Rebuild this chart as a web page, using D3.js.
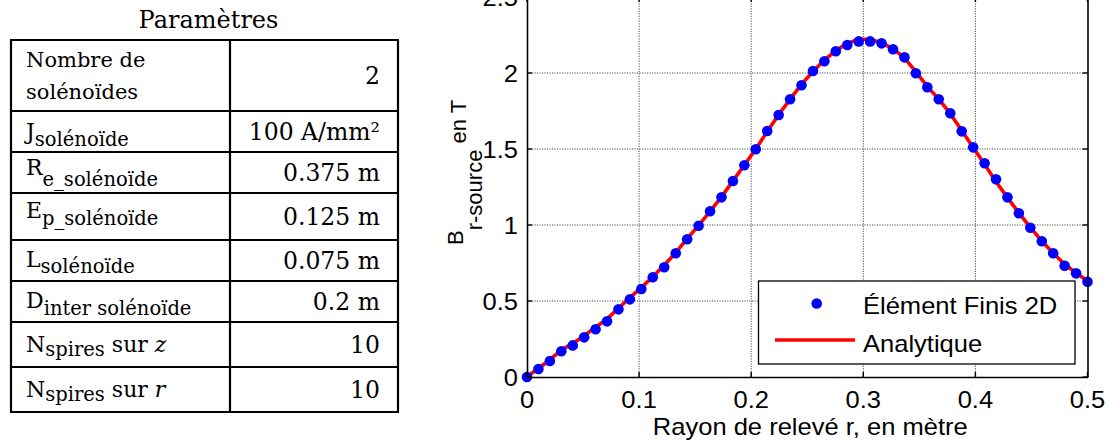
<!DOCTYPE html>
<html>
<head>
<meta charset="utf-8">
<script src="https://cdn.jsdelivr.net/npm/d3@7"></script>
<style>
  html, body { margin: 0; padding: 0; background: #fff; }
  svg { display: block; }
</style>
</head>
<body>
<svg id="chart" width="1110" height="445"></svg>
<script>
// ---------------- DATA ----------------
const radius = [0, 0.0102, 0.0204, 0.0306, 0.0408, 0.051, 0.0612, 0.0714, 0.0816, 0.0918,
  0.102, 0.1122, 0.1224, 0.1327, 0.1429, 0.1531, 0.1633, 0.1735, 0.1837, 0.1939,
  0.2041, 0.2143, 0.2245, 0.2347, 0.2449, 0.2551, 0.2653, 0.2755, 0.2857, 0.2959,
  0.3061, 0.3163, 0.3265, 0.3367, 0.3469, 0.3571, 0.3673, 0.3776, 0.3878, 0.398,
  0.4082, 0.4184, 0.4286, 0.4388, 0.449, 0.4592, 0.4694, 0.4796, 0.4898, 0.5];

const elementFinis = [0, 0.053, 0.105, 0.169, 0.208, 0.261, 0.314, 0.366, 0.445, 0.511,
  0.579, 0.656, 0.722, 0.814, 0.906, 0.995, 1.09, 1.182, 1.289, 1.393,
  1.498, 1.618, 1.724, 1.827, 1.919, 2.013, 2.077, 2.143, 2.184, 2.208,
  2.208, 2.195, 2.156, 2.103, 1.998, 1.906, 1.827, 1.735, 1.616, 1.511,
  1.406, 1.301, 1.182, 1.077, 0.982, 0.893, 0.814, 0.732, 0.682, 0.627];

const analytique = [0, 0.058, 0.112, 0.178, 0.22, 0.272, 0.327, 0.382, 0.452, 0.522,
  0.588, 0.66, 0.735, 0.818, 0.91, 0.998, 1.09, 1.185, 1.29, 1.395,
  1.5, 1.615, 1.725, 1.828, 1.925, 2.01, 2.085, 2.148, 2.195, 2.222,
  2.222, 2.198, 2.16, 2.1, 2.008, 1.912, 1.828, 1.732, 1.622, 1.51,
  1.4, 1.285, 1.18, 1.08, 0.985, 0.895, 0.815, 0.742, 0.685, 0.632];

const xTicks = [0, 0.1, 0.2, 0.3, 0.4, 0.5];
const xTickLabels = ["0", "0.1", "0.2", "0.3", "0.4", "0.5"];
const yTicks = [0, 0.5, 1, 1.5, 2, 2.5];
const yTickLabels = ["0", "0.5", "1", "1.5", "2", "2.5"];

const seriesNames = ["Élément Finis 2D", "Analytique"];
const xLabel = "Rayon de relevé r, en mètre";
const yLabelMain = "B", yLabelSub = "r-source", yLabelTail = " en T";

const tableTitle = "Paramètres";
const paramMain = ["", "J", "R", "E", "L", "D", "N", "N"];
const paramSub = ["", "solénoïde", "e_solénoïde", "p_solénoïde", "solénoïde", "inter solénoïde", "spires", "spires"];
const paramTailText = ["", "", "", "", "", "", " sur ", " sur "];
const paramTailItalic = ["", "", "", "", "", "", "z", "r"];
const paramFirstLines = ["Nombre de", "solénoïdes"];
const paramValues = ["2", "100 A/mm²", "0.375 m", "0.125 m", "0.075 m", "0.2 m", "10", "10"];

// ---------------- LAYOUT ----------------
const svg = d3.select("#chart");
svg.append("rect").attr("width", 1110).attr("height", 445).attr("fill", "#fff");

const SX = 1.11; // horizontal stretch of the original picture
const sans = "'Liberation Sans', Arial, Helvetica, sans-serif";
const serif = "'DejaVu Serif', 'Liberation Serif', serif";

function htext(g, x, y, str, size, anchor) {
  return g.append("text")
    .attr("transform", `translate(${x},${y}) scale(${SX},1)`)
    .attr("font-family", sans).attr("font-size", size)
    .attr("text-anchor", anchor || "start").attr("fill", "#000")
    .text(str);
}

// ---------- Table ----------
const tg = svg.append("g");
const rowEdges = [40, 111, 152, 193, 240, 281, 322, 367, 412];
const tLeft = 11, tDiv = 230, tRight = 398;
const mainBase = [0, 139, 175, 218, 267, 308, 352, 397];
const subBase  = [0, 146, 186, 225, 273, 315, 356, 401];

tg.append("text").attr("x", (tLeft + tRight) / 2 + 4).attr("y", 28)
  .attr("font-family", serif).attr("font-size", 24).attr("text-anchor", "middle")
  .text(tableTitle);

// rows
paramValues.forEach((v, i) => {
  const top = rowEdges[i], bot = rowEdges[i + 1];
  const cy = (top + bot) / 2;
  tg.append("text").attr("x", 380).attr("y", cy + 8)
    .attr("font-family", serif).attr("font-size", 23.5).attr("text-anchor", "end")
    .text(v);
  if (i === 0) {
    paramFirstLines.forEach((l, k) => {
      tg.append("text").attr("x", 26).attr("y", [67, 99][k])
        .attr("font-family", serif).attr("font-size", 21).text(l);
    });
  } else {
    const t = tg.append("text").attr("x", 26).attr("font-family", serif);
    t.append("tspan").attr("y", mainBase[i]).attr("font-size", 22).text(paramMain[i]);
    t.append("tspan").attr("y", subBase[i]).attr("font-size", 19.5).text(paramSub[i]);
    if (paramTailText[i]) {
      t.append("tspan").attr("y", mainBase[i]).attr("font-size", 22).text(paramTailText[i]);
      t.append("tspan").attr("y", mainBase[i]).attr("font-size", 22)
        .attr("font-style", "italic").text(paramTailItalic[i]);
    }
  }
});
// lines
rowEdges.forEach(y => {
  tg.append("line").attr("x1", tLeft - 1).attr("x2", tRight + 1).attr("y1", y).attr("y2", y)
    .attr("stroke", "#000").attr("stroke-width", 2.2);
});
[tLeft, tDiv, tRight].forEach(x => {
  tg.append("line").attr("x1", x).attr("x2", x).attr("y1", rowEdges[0]).attr("y2", rowEdges[rowEdges.length - 1])
    .attr("stroke", "#000").attr("stroke-width", 2.2);
});

// ---------- Chart ----------
const pl = 527, pr = 1087.5, pb = 377, pt = -3;
const x = d3.scaleLinear().domain([0, 0.5]).range([pl, pr]);
const y = d3.scaleLinear().domain([0, 2.5]).range([pb, pt]);

const cg = svg.append("g");

// grid
cg.append("g").selectAll("line").data(xTicks.slice(1, -1)).join("line")
  .attr("x1", d => x(d)).attr("x2", d => x(d)).attr("y1", pb).attr("y2", pt)
  .attr("stroke", "#4a4a4a").attr("stroke-width", 1).attr("stroke-dasharray", "1.2,1.3");
cg.append("g").selectAll("line").data(yTicks.slice(1, -1)).join("line")
  .attr("y1", d => y(d)).attr("y2", d => y(d)).attr("x1", pl).attr("x2", pr)
  .attr("stroke", "#4a4a4a").attr("stroke-width", 1).attr("stroke-dasharray", "1.2,1.3");

// analytic line
const pts = radius.map((r, i) => [r, analytique[i]]);
cg.append("path").datum(pts)
  .attr("d", d3.line().x(d => x(d[0])).y(d => y(d[1])))
  .attr("fill", "none").attr("stroke", "#ff0000").attr("stroke-width", 3.6)
  .attr("stroke-linejoin", "round");

// FE dots
cg.append("g").selectAll("circle").data(radius.map((r, i) => [r, elementFinis[i]])).join("circle")
  .attr("cx", d => x(d[0])).attr("cy", d => y(d[1])).attr("r", 5.3)
  .attr("fill", "#0000ff");

// axes (MATLAB style box with inward ticks)
const ag = svg.append("g");
const axBottom = d3.axisBottom(x).tickValues(xTicks).tickSize(0).tickFormat("");
const axTop = d3.axisTop(x).tickValues(xTicks).tickSize(0).tickFormat("");
const axLeft = d3.axisLeft(y).tickValues(yTicks).tickSize(0).tickFormat("");
const axRight = d3.axisRight(y).tickValues(yTicks).tickSize(0).tickFormat("");
ag.append("g").attr("transform", `translate(0,${pb})`).call(axBottom);
ag.append("g").attr("transform", `translate(0,${pt})`).call(axTop);
ag.append("g").attr("transform", `translate(${pl},0)`).call(axLeft);
ag.append("g").attr("transform", `translate(${pr},0)`).call(axRight);
ag.selectAll(".domain").attr("stroke", "#000").attr("stroke-width", 1.6);

// inward tick marks
const tk = 5;
xTicks.forEach(v => {
  ag.append("line").attr("x1", x(v)).attr("x2", x(v)).attr("y1", pb).attr("y2", pb - tk).attr("stroke", "#000").attr("stroke-width", 1.4);
  ag.append("line").attr("x1", x(v)).attr("x2", x(v)).attr("y1", pt).attr("y2", pt + tk).attr("stroke", "#000").attr("stroke-width", 1.4);
});
yTicks.forEach(v => {
  ag.append("line").attr("x1", pl).attr("x2", pl + tk).attr("y1", y(v)).attr("y2", y(v)).attr("stroke", "#000").attr("stroke-width", 1.4);
  ag.append("line").attr("x1", pr).attr("x2", pr - tk).attr("y1", y(v)).attr("y2", y(v)).attr("stroke", "#000").attr("stroke-width", 1.4);
});

// tick labels
xTicks.forEach((v, i) => htext(ag, x(v), 408, xTickLabels[i], 23, "middle"));
yTicks.forEach((v, i) => htext(ag, 518, y(v) + 8.5, yTickLabels[i], 23, "end"));

// axis labels
htext(ag, (pl + pr) / 2 + 3, 435, xLabel, 23, "middle");
const yl = ag.append("text")
  .attr("transform", "translate(463,245) rotate(-90)")
  .attr("font-family", sans).attr("font-size", 22).attr("fill", "#000");
yl.append("tspan").text(yLabelMain);
yl.append("tspan").attr("dy", 19).text(yLabelSub);
yl.append("tspan").attr("dy", -16).text(yLabelTail);

// legend
const lg = svg.append("g");
lg.append("rect").attr("x", 758.5).attr("y", 281).attr("width", 316.5).attr("height", 83)
  .attr("fill", "#fff").attr("stroke", "#000").attr("stroke-width", 1.3);
lg.append("circle").attr("cx", 816.7).attr("cy", 303.5).attr("r", 5.3).attr("fill", "#0000ff");
htext(lg, 863, 314, seriesNames[0], 23, "start");
lg.append("line").attr("x1", 775).attr("x2", 855).attr("y1", 340).attr("y2", 340)
  .attr("stroke", "#ff0000").attr("stroke-width", 3.6);
htext(lg, 863, 351.5, seriesNames[1], 23, "start");
</script>
</body>
</html>
